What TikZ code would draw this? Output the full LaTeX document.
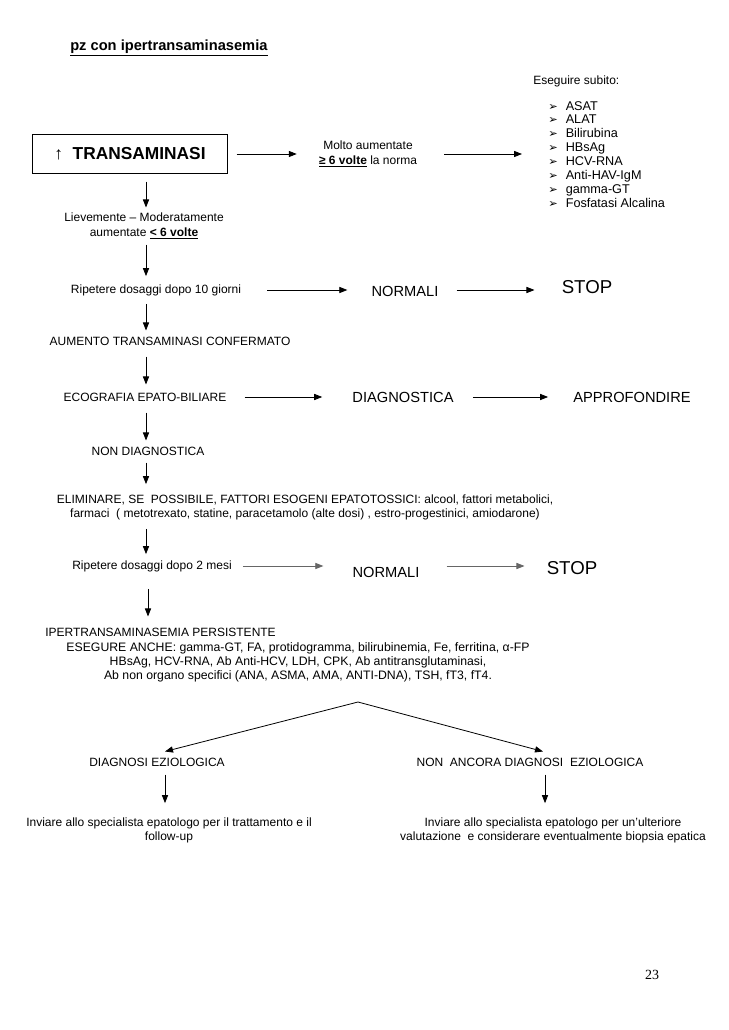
\documentclass[tikz,border=0pt]{standalone}
\usepackage{fontspec}
\setmainfont{Liberation Sans}
\newfontfamily\symbfont{DejaVu Sans}
\newfontfamily\pagefont{Liberation Serif}
\usetikzlibrary{arrows.meta,calc}

\newcommand{\listmark}{{\symbfont\fontsize{8.5}{8.5}\selectfont ➢}\hspace{6pt}}

\begin{document}
\begin{tikzpicture}[x=0.75pt,y=-0.75pt,
  txt/.style={inner sep=0pt,align=center,font=\fontsize{9}{10.5}\selectfont},
  big/.style={inner sep=0pt,font=\fontsize{11}{13}\selectfont},
  stopword/.style={inner sep=0pt,font=\fontsize{14}{16}\selectfont},
  arr/.style={-{Triangle[length=6pt,width=4.6pt]},line width=0.6pt},
  greyarr/.style={arr,draw=black!60}]
  \fill[white] (0,0) rectangle (728,1030);
  \useasboundingbox (0,0) rectangle (728,1030);

  % top part
  \node[inner sep=0pt,anchor=west,font=\fontsize{11}{12}\selectfont\bfseries] (title) at (70,48) {\underline{pz con ipertransaminasemia}};
  \node[draw,line width=0.6pt,minimum width=146pt,minimum height=29pt,
        font=\fontsize{13}{15}\selectfont\bfseries] (box) at (130,154) {{\mdseries ↑}\ \ TRANSAMINASI};
  \node[txt,font=\fontsize{9}{11.25}\selectfont] (molto) at (368,154) {Molto aumentate\\\underline{\textbf{≥ 6 volte}} la norma};
  \node[txt,anchor=west] (eseg) at (533,81) {Eseguire subito:};
  \node[inner sep=0pt,align=left,anchor=north west,font=\fontsize{9.5}{10.4}\selectfont] (tests) at (548,101)
    {\listmark ASAT\\\listmark ALAT\\\listmark Bilirubina\\\listmark HBsAg\\\listmark HCV-RNA\\
     \listmark Anti-HAV-IgM\\\listmark gamma-GT\\\listmark Fosfatasi Alcalina};
  \node[txt,font=\fontsize{9}{11.25}\selectfont] (liev) at (144,226) {Lievemente – Moderatamente\\aumentate \underline{\textbf{< 6 volte}}};

  % main column
  \node[txt] (rip1) at (156,290) {Ripetere dosaggi dopo 10 giorni};
  \node[big] (norm1) at (405,291) {NORMALI};
  \node[stopword] (stop1) at (587,287) {STOP};
  \node[txt] (aum) at (170,341) {AUMENTO TRANSAMINASI CONFERMATO};
  \node[txt] (eco) at (145,397) {ECOGRAFIA EPATO-BILIARE};
  \node[big] (diag) at (403,397) {DIAGNOSTICA};
  \node[big] (appr) at (632,397) {APPROFONDIRE};
  \node[txt] (nondiag) at (148,451) {NON DIAGNOSTICA};
  \node[txt] (elim) at (305,507) {ELIMINARE, SE\ \ POSSIBILE, FATTORI ESOGENI EPATOTOSSICI: alcool, fattori metabolici,\\
    farmaci\ \ ( metotrexato, statine, paracetamolo (alte dosi) , estro-progestinici, amiodarone)};
  \node[txt] (rip2) at (152,566) {Ripetere dosaggi dopo 2 mesi};
  \node[big] (norm2) at (386,572) {NORMALI};
  \node[stopword] (stop2) at (572,568) {STOP};
  \node[txt,anchor=west] (iper) at (45,632) {IPERTRANSAMINASEMIA PERSISTENTE};
  \node[txt,font=\fontsize{9.2}{10.5}\selectfont] (esami) at (298,662) {ESEGURE ANCHE: gamma-GT, FA, protidogramma, bilirubinemia, Fe, ferritina, α-FP\\
    HBsAg, HCV-RNA, Ab Anti-HCV, LDH, CPK, Ab antitransglutaminasi,\\
    Ab non organo specifici (ANA, ASMA, AMA, ANTI-DNA), TSH, fT3, fT4.};

  % final branch
  \coordinate (split) at (358,702);
  \node[txt] (dez) at (157,762) {DIAGNOSI EZIOLOGICA};
  \node[txt] (ndez) at (530,762) {NON\ \ ANCORA DIAGNOSI\ \ EZIOLOGICA};
  \node[txt,font=\fontsize{9}{10.5}\selectfont] (inv1) at (169,830) {Inviare allo specialista epatologo per il trattamento e il\\follow-up};
  \node[txt,font=\fontsize{9}{10.5}\selectfont] (inv2) at (553,830) {Inviare allo specialista epatologo per un'ulteriore\\valutazione\ \ e considerare eventualmente biopsia epatica};
  \node[inner sep=0pt,font=\pagefont\fontsize{10.5}{12}\selectfont] (pag) at (652,975) {23};

  \coordinate (colA) at (146,0);
  \coordinate (colB) at (148,0);
  \coordinate (colL) at (165,0);
  \coordinate (colR) at (545,0);

  % horizontal arrows
  \draw[arr] ($(box.east)+(9,0)$) -- ($(molto.west)+(-22,0)$);
  \draw[arr] ($(molto.east)+(27,0)$) -- ($(tests.west |- molto.east)+(-26,0)$);
  \draw[arr] ($(rip1.east)+(26,0)$) -- ($(norm1.west |- rip1.east)+(-24,0)$);
  \draw[arr] ($(norm1.east |- rip1.east)+(18,0)$) -- ($(stop1.west |- rip1.east)+(-27,0)$);
  \draw[arr] ($(eco.east)+(18,0)$) -- ($(diag.west)+(-30,0)$);
  \draw[arr] ($(diag.east)+(19,0)$) -- ($(appr.west)+(-25,0)$);
  \draw[greyarr] ($(rip2.east)+(11,0)$) -- ($(norm2.west |- rip2.east)+(-29,0)$);
  \draw[greyarr] ($(norm2.east |- rip2.east)+(27,0)$) -- ($(stop2.west |- rip2.east)+(-22,0)$);

  % vertical arrows
  \draw[arr] ($(box.south -| colA)+(0,8)$) -- ($(liev.north -| colA)+(0,-5)$);
  \draw[arr] ($(liev.south -| colA)+(0,5)$) -- ($(rip1.north -| colA)+(0,-8)$);
  \draw[arr] ($(rip1.south -| colA)+(0,8)$) -- ($(aum.north -| colA)+(0,-6)$);
  \draw[arr] ($(aum.south -| colA)+(0,11)$) -- ($(eco.north -| colA)+(0,-8)$);
  \draw[arr] ($(eco.south -| colA)+(0,11)$) -- ($(nondiag.north -| colA)+(0,-6)$);
  \draw[arr] ($(nondiag.south -| colA)+(0,7)$) -- ($(elim.north -| colA)+(0,-10)$);
  \draw[arr] ($(elim.south -| colA)+(0,9)$) -- ($(rip2.north -| colA)+(0,-6)$);
  \draw[arr] ($(rip2.south -| colB)+(0,17)$) -- ($(iper.north -| colB)+(0,-11)$);

  % branch arrows
  \draw[arr] (split) -- ($(dez.north)+(8,-6)$);
  \draw[arr] (split) -- ($(ndez.north)+(13,-6)$);
  \draw[arr] ($(dez.south -| colL)+(0,8)$) -- ($(inv1.north -| colL)+(0,-14)$);
  \draw[arr] ($(ndez.south -| colR)+(0,8)$) -- ($(inv2.north -| colR)+(0,-14)$);
\end{tikzpicture}
\end{document}
